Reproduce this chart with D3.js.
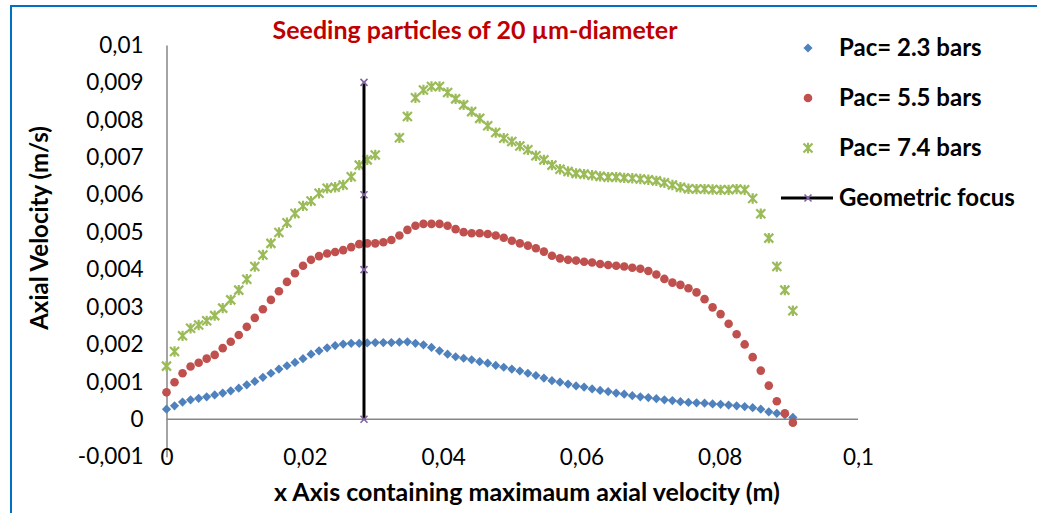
<!DOCTYPE html>
<html>
<head>
<meta charset="utf-8">
<script src="https://cdn.jsdelivr.net/npm/d3@7/dist/d3.min.js"></script>
<style>
  html, body { margin: 0; padding: 0; background: #fff; }
  svg { display: block; font-family: Lato, "Open Sans", sans-serif; }
</style>
</head>
<body>
<svg id="chart" width="1037" height="513"></svg>
<script>
// Sampling positions along the axis (m)
const xPositions = [
  0, 0.00116, 0.00232, 0.00348, 0.00465, 0.00581, 0.00697, 0.00813, 0.00929, 0.01045,
  0.01161, 0.01277, 0.01394, 0.01510, 0.01626, 0.01742, 0.01858, 0.01974, 0.02090, 0.02206,
  0.02323, 0.02439, 0.02555, 0.02671, 0.02787, 0.02903, 0.03019, 0.03136, 0.03252, 0.03368,
  0.03484, 0.03600, 0.03716, 0.03832, 0.03948, 0.04065, 0.04181, 0.04297, 0.04413, 0.04529,
  0.04645, 0.04761, 0.04877, 0.04994, 0.05110, 0.05226, 0.05342, 0.05458, 0.05574, 0.05690,
  0.05807, 0.05923, 0.06039, 0.06155, 0.06271, 0.06387, 0.06503, 0.06619, 0.06736, 0.06852,
  0.06968, 0.07084, 0.07200, 0.07316, 0.07432, 0.07548, 0.07665, 0.07781, 0.07897, 0.08013,
  0.08129, 0.08245, 0.08361, 0.08477, 0.08594, 0.08710, 0.08826, 0.08942, 0.09058
];

// Axial velocity (m/s), Pac = 2.3 bars
const velocityPac23 = [
  0.00027, 0.00036, 0.00046, 0.00052, 0.00056, 0.00060, 0.00065, 0.00070, 0.00076, 0.00083,
  0.00092, 0.00101, 0.00112, 0.00123, 0.00134, 0.00143, 0.00152, 0.00162, 0.00174, 0.00183,
  0.00191, 0.00197, 0.00201, 0.00203, 0.00203, 0.00204, 0.00205, 0.00205, 0.00205, 0.00206,
  0.00207, 0.00203, 0.00199, 0.00192, 0.00183, 0.00174, 0.00167, 0.00163, 0.00159, 0.00154,
  0.00150, 0.00144, 0.00139, 0.00134, 0.00129, 0.00123, 0.00117, 0.00110, 0.00103, 0.00099,
  0.00094, 0.00089, 0.00086, 0.00081, 0.00077, 0.00074, 0.00070, 0.00067, 0.00063, 0.00060,
  0.00058, 0.00055, 0.00052, 0.00050, 0.00047, 0.00045, 0.00044, 0.00043, 0.00041, 0.00040,
  0.00038, 0.00036, 0.00034, 0.00031, 0.00027, 0.00020, 0.00016, 0.00012, 0.00005
];

// Axial velocity (m/s), Pac = 5.5 bars
const velocityPac55 = [
  0.00072, 0.00099, 0.00123, 0.00141, 0.00151, 0.00162, 0.00172, 0.00190, 0.00207, 0.00225,
  0.00247, 0.00271, 0.00294, 0.00319, 0.00342, 0.00367, 0.00390, 0.00410, 0.00426, 0.00436,
  0.00443, 0.00447, 0.00452, 0.00460, 0.00468, 0.00470, 0.00470, 0.00473, 0.00479, 0.00491,
  0.00506, 0.00517, 0.00522, 0.00522, 0.00522, 0.00517, 0.00508, 0.00500, 0.00497, 0.00497,
  0.00495, 0.00491, 0.00485, 0.00477, 0.00470, 0.00464, 0.00457, 0.00448, 0.00437, 0.00430,
  0.00426, 0.00424, 0.00421, 0.00419, 0.00415, 0.00412, 0.00410, 0.00408, 0.00405, 0.00402,
  0.00396, 0.00387, 0.00375, 0.00365, 0.00359, 0.00350, 0.00339, 0.00321, 0.00299, 0.00281,
  0.00255, 0.00227, 0.00200, 0.00166, 0.00130, 0.00090, 0.00048, 0.00016, -0.00009
];

// Axial velocity (m/s), Pac = 7.4 bars (null = no sample)
const velocityPac74 = [
  0.00142, 0.00181, 0.00223, 0.00243, 0.00252, 0.00263, 0.00277, 0.00297, 0.00319, 0.00345,
  0.00374, 0.00408, 0.00439, 0.00470, 0.00499, 0.00525, 0.00550, 0.00570, 0.00583, 0.00604,
  0.00617, 0.00620, 0.00626, 0.00648, 0.00679, 0.00693, 0.00706, null, null, 0.00752,
  0.00809, 0.00859, 0.00880, 0.00889, 0.00889, 0.00873, 0.00856, 0.00840, 0.00822, 0.00804,
  0.00784, 0.00766, 0.00751, 0.00742, 0.00730, 0.00720, 0.00704, 0.00693, 0.00679, 0.00668,
  0.00662, 0.00657, 0.00655, 0.00652, 0.00649, 0.00647, 0.00647, 0.00645, 0.00644, 0.00642,
  0.00640, 0.00637, 0.00632, 0.00626, 0.00620, 0.00616, 0.00615, 0.00615, 0.00614, 0.00613,
  0.00613, 0.00615, 0.00613, 0.00590, 0.00549, 0.00484, 0.00408, 0.00345, 0.00290
];

// Geometric focus: vertical marker line
const focusX = 0.02856;
const focusY = [0, 0.004, 0.006, 0.009];

const yTicks = [-0.001, 0, 0.001, 0.002, 0.003, 0.004, 0.005, 0.006, 0.007, 0.008, 0.009, 0.01];
const xTicks = [0, 0.02, 0.04, 0.06, 0.08, 0.1];
const seriesNames = ["Pac= 2.3 bars", "Pac= 5.5 bars", "Pac= 7.4 bars", "Geometric focus"];

const chartTitle = "Seeding particles of 20 \u00b5m-diameter";
const xTitle = "x Axis containing maximaum axial velocity (m)";
const yTitle = "Axial Velocity (m/s)";

const colors = { blue: "#4F81BD", red: "#C0504D", green: "#9BBB59", purple: "#8064A2" };

const svg = d3.select("#chart");

// Chart frame
svg.append("rect")
  .attr("x", 11).attr("y", 6).attr("width", 1100).attr("height", 600)
  .attr("fill", "none").attr("stroke", "#0070C0").attr("stroke-width", 2);

const x = d3.scaleLinear().domain([0, 0.1]).range([166.5, 858]);
const y = d3.scaleLinear().domain([-0.001, 0.01]).range([456.7, 45]);

const commaFmt = d => d === 0 ? "0" : String(+d.toFixed(3)).replace(".", ",");

// Y axis with labels
const yAxis = svg.append("g")
  .attr("transform", `translate(${x(0)},0)`)
  .call(d3.axisLeft(y).tickValues(yTicks).tickFormat(commaFmt).tickSize(0).tickPadding(23));
yAxis.select(".domain").attr("stroke", "#868686").attr("stroke-width", 1.5);
yAxis.selectAll("text").attr("font-size", 22.5).attr("fill", "#000").attr("font-family", "Lato");

// X axis labels sit at the bottom of the plot area
const xAxis = svg.append("g")
  .attr("transform", `translate(0,${y(-0.001)})`)
  .call(d3.axisBottom(x).tickValues(xTicks).tickFormat(commaFmt).tickSize(0).tickPadding(0));
xAxis.select(".domain").remove();
xAxis.selectAll("text").attr("font-size", 22.5).attr("fill", "#000").attr("font-family", "Lato")
  .attr("y", 0).attr("dy", "0.35em");

// Horizontal axis line at zero
svg.append("line")
  .attr("x1", x(0)).attr("x2", x(0.1)).attr("y1", y(0)).attr("y2", y(0))
  .attr("stroke", "#868686").attr("stroke-width", 1.5);

// Marker shapes
function diamondPath(s) {
  return `M0,${-s}L${s},0L0,${s}L${-s},0Z`;
}
function starPath(s) {
  return `M${-s},${-s}L${s},${s}M${-s},${s}L${s},${-s}M0,${-s * 1.15}L0,${s * 1.15}`;
}
function crossPath(s) {
  return `M${-s},${-s}L${s},${s}M${-s},${s}L${s},${-s}`;
}

const pts = vals => xPositions.map((xv, i) => ({ x: xv, y: vals[i] })).filter(d => d.y !== null);

// Pac = 2.3 bars
svg.append("g").selectAll("path").data(pts(velocityPac23)).join("path")
  .attr("d", diamondPath(4.6))
  .attr("transform", d => `translate(${x(d.x)},${y(d.y)})`)
  .attr("fill", colors.blue);

// Pac = 5.5 bars
svg.append("g").selectAll("circle").data(pts(velocityPac55)).join("circle")
  .attr("cx", d => x(d.x)).attr("cy", d => y(d.y)).attr("r", 4.3)
  .attr("fill", colors.red);

// Pac = 7.4 bars
svg.append("g").selectAll("path").data(pts(velocityPac74)).join("path")
  .attr("d", starPath(4.5))
  .attr("transform", d => `translate(${x(d.x)},${y(d.y)})`)
  .attr("fill", "none").attr("stroke", colors.green).attr("stroke-width", 2.2);

// Geometric focus line
const focusPts = focusY.map(v => ({ x: focusX, y: v }));
svg.append("path")
  .datum(focusPts)
  .attr("d", d3.line().x(d => x(d.x)).y(d => y(d.y)))
  .attr("fill", "none").attr("stroke", "#000").attr("stroke-width", 3);
svg.append("g").selectAll("path").data(focusPts).join("path")
  .attr("d", crossPath(3.5))
  .attr("transform", d => `translate(${x(d.x)},${y(d.y)})`)
  .attr("stroke", colors.purple).attr("stroke-width", 1.6).attr("fill", "none");

// Title
svg.append("text")
  .attr("x", 475).attr("y", 30).attr("dy", "0.35em")
  .attr("text-anchor", "middle")
  .attr("font-size", 25).attr("font-weight", "bold").attr("fill", "#C00000")
  .text(chartTitle);

// Axis titles
svg.append("text")
  .attr("x", 527).attr("y", 492).attr("dy", "0.35em")
  .attr("text-anchor", "middle")
  .attr("font-size", 25).attr("font-weight", "bold").attr("fill", "#000")
  .text(xTitle);
svg.append("text")
  .attr("transform", "translate(40,228) rotate(-90)")
  .attr("dy", "0.35em")
  .attr("text-anchor", "middle")
  .attr("font-size", 24).attr("font-weight", "bold").attr("fill", "#000")
  .text(yTitle);

// Legend
const legendRows = [48, 98, 148, 198];
const legend = svg.append("g");
legendRows.forEach((ly, i) => {
  const g = legend.append("g").attr("transform", `translate(808,${ly})`);
  if (i === 0) g.append("path").attr("d", diamondPath(4.6)).attr("fill", colors.blue);
  if (i === 1) g.append("circle").attr("r", 4.3).attr("fill", colors.red);
  if (i === 2) g.append("path").attr("d", starPath(4.5)).attr("fill", "none")
    .attr("stroke", colors.green).attr("stroke-width", 2.2);
  if (i === 3) {
    g.append("line").attr("x1", -27).attr("x2", 25).attr("stroke", "#000").attr("stroke-width", 3);
    g.append("path").attr("d", crossPath(3.5)).attr("stroke", colors.purple)
      .attr("stroke-width", 1.6).attr("fill", "none");
  }
  g.append("text").attr("x", 31).attr("dy", "0.35em")
    .attr("font-size", 24).attr("font-weight", "bold").attr("fill", "#000")
    .text(seriesNames[i]);
});
</script>
</body>
</html>
